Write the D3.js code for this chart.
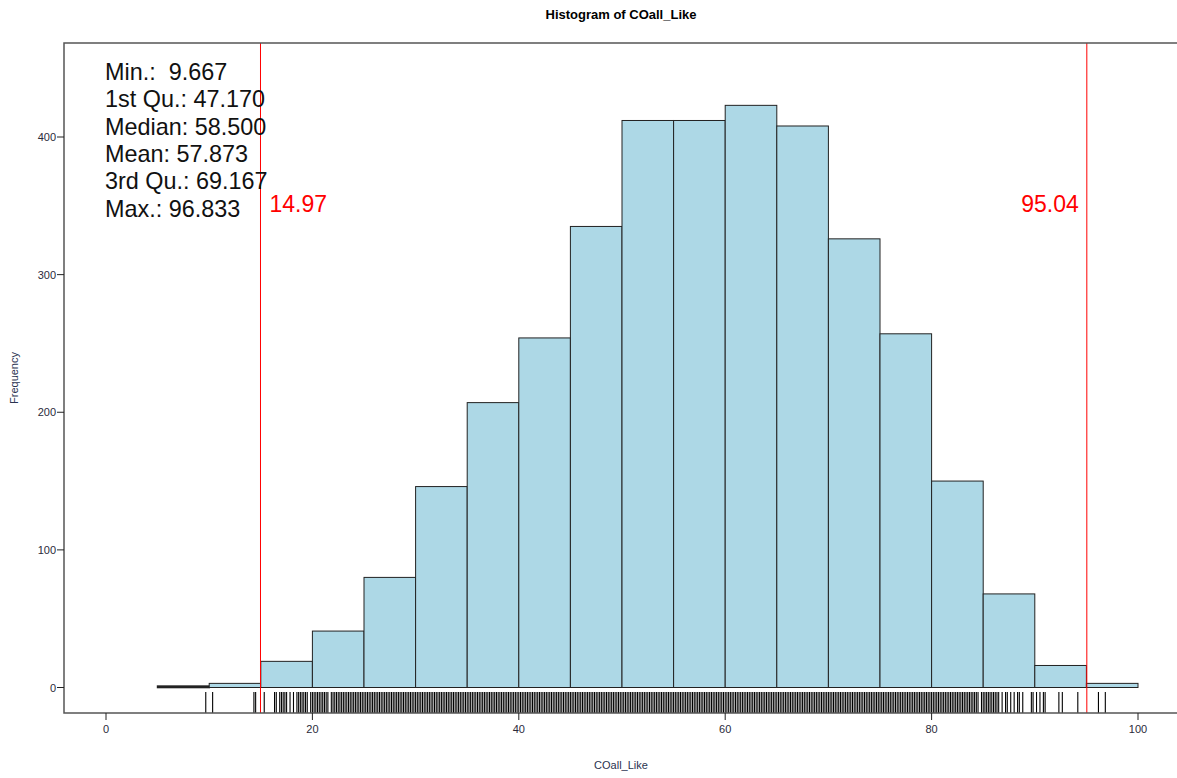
<!DOCTYPE html>
<html>
<head>
<meta charset="utf-8">
<style>
  body { margin: 0; background: #fff; }
  text { font-family: "Liberation Sans", Arial, sans-serif; }
  .tick-lab { font-size: 11px; fill: #2a2a3a; }
</style>
</head>
<body>
<svg id="chart"></svg>
<script src="https://d3js.org/d3.v7.min.js"></script>
<script>
// histogram breaks and counts (bin width 5)
var breaks = [5,10,15,20,25,30,35,40,45,50,55,60,65,70,75,80,85,90,95,100];
var counts = [1,3,19,41,80,146,207,254,335,412,412,423,408,326,257,150,68,16,3];

var xTicks = [0,20,40,60,80,100];
var yTicks = [0,100,200,300,400];

// summary box text
var summaryLines = ["Min.:  9.667","1st Qu.: 47.170","Median: 58.500","Mean: 57.873","3rd Qu.: 69.167","Max.: 96.833"];

// red cut-off lines
var cutoffs = [14.97, 95.04];

// rug: single observed values (sparse tails)
var rugSingles = [9.667,10.333,14.333,14.5,15.333,16.333,16.5,16.833,17,17.167,17.333,17.5,17.833,18.167,
  86.833,87.167,87.333,87.667,88,88.333,88.5,88.833,89.667,89.833,90.167,90.5,90.833,91,
  92.333,92.667,94.167,96.167,96.833];
// rug: intervals where every 1/6 step is observed (dense middle)
var rugRuns = [[18.5,19.5],[19.833,21.5],[21.833,84.5],[84.833,86.5]];

var W = 1177, H = 778;
var svg = d3.select("#chart").attr("width", W).attr("height", H);

var x = d3.scaleLinear().domain([0,100]).range([106,1138]);
var y = d3.scaleLinear().domain([0,400]).range([687.5,137]);

var box = {left:64, top:43, right:1179, bottom:713};

// bars
var bins = counts.map(function(c,i){ return {x0:breaks[i], x1:breaks[i+1], n:c}; });
svg.append("g").selectAll("rect").data(bins).enter().append("rect")
  .attr("x", function(d){ return x(d.x0); })
  .attr("y", function(d){ return y(d.n); })
  .attr("width", function(d){ return x(d.x1) - x(d.x0); })
  .attr("height", function(d){ return y(0) - y(d.n); })
  .attr("fill", "#add8e6")
  .attr("stroke", "#222")
  .attr("stroke-width", function(d){ return d.n < 2 ? 1.6 : 1; });

// rug
var rugVals = rugSingles.slice();
rugRuns.forEach(function(r){
  var a = Math.round(r[0]*6), b = Math.round(r[1]*6);
  for (var k = a; k <= b; k++) rugVals.push(k/6);
});
svg.append("g").selectAll("line").data(rugVals).enter().append("line")
  .attr("x1", function(d){ return x(d); }).attr("x2", function(d){ return x(d); })
  .attr("y1", 692).attr("y2", box.bottom)
  .attr("stroke", "#000").attr("stroke-width", 1.1);

// cut-off lines
svg.append("g").selectAll("line").data(cutoffs).enter().append("line")
  .attr("x1", function(d){ return x(d); }).attr("x2", function(d){ return x(d); })
  .attr("y1", box.top).attr("y2", box.bottom)
  .attr("stroke", "red").attr("stroke-width", 1);
svg.append("text").attr("x", x(cutoffs[0]) + 9).attr("y", 212)
  .attr("fill", "red").style("font-size", "23px").text(cutoffs[0].toFixed(2));
svg.append("text").attr("x", x(cutoffs[1]) - 8).attr("y", 212)
  .attr("text-anchor", "end").attr("fill", "red").style("font-size", "23px").text(cutoffs[1].toFixed(2));

// plot frame
svg.append("path")
  .attr("d", "M" + box.right + "," + box.top + "H" + box.left + "V" + box.bottom + "H" + box.right)
  .attr("fill", "none").attr("stroke", "#555").attr("stroke-width", 1.5);

// y axis ticks
var yAx = svg.append("g");
yAx.selectAll("line").data(yTicks).enter().append("line")
  .attr("x1", 57).attr("x2", box.left)
  .attr("y1", function(d){ return y(d); }).attr("y2", function(d){ return y(d); })
  .attr("stroke", "#222");
yAx.selectAll("text").data(yTicks).enter().append("text")
  .attr("class", "tick-lab")
  .attr("x", 56).attr("y", function(d){ return y(d) + 4; })
  .attr("text-anchor", "end").text(function(d){ return d; });

// x axis ticks
var xAx = svg.append("g");
xAx.selectAll("line").data(xTicks).enter().append("line")
  .attr("x1", function(d){ return x(d); }).attr("x2", function(d){ return x(d); })
  .attr("y1", box.bottom).attr("y2", 720)
  .attr("stroke", "#222");
xAx.selectAll("text").data(xTicks).enter().append("text")
  .attr("class", "tick-lab")
  .attr("x", function(d){ return x(d); }).attr("y", 733)
  .attr("text-anchor", "middle").text(function(d){ return d; });

// summary text
svg.append("g").selectAll("text").data(summaryLines).enter().append("text")
  .attr("x", 105).attr("y", function(d,i){ return 80 + i*27.3; })
  .attr("xml:space", "preserve").style("white-space", "pre")
  .style("font-size", "23.4px").attr("fill", "#111")
  .text(function(d){ return d; });

// titles
svg.append("text").attr("x", 621).attr("y", 19).attr("text-anchor", "middle")
  .style("font-size", "13px").style("font-weight", "bold").text("Histogram of COall_Like");
svg.append("text").attr("x", 621).attr("y", 769).attr("text-anchor", "middle")
  .style("font-size", "11px").attr("fill", "#2a3350").text("COall_Like");
svg.append("text").attr("transform", "translate(18,378) rotate(-90)").attr("text-anchor", "middle")
  .style("font-size", "11px").attr("fill", "#2a3350").text("Frequency");
</script>
</body>
</html>
